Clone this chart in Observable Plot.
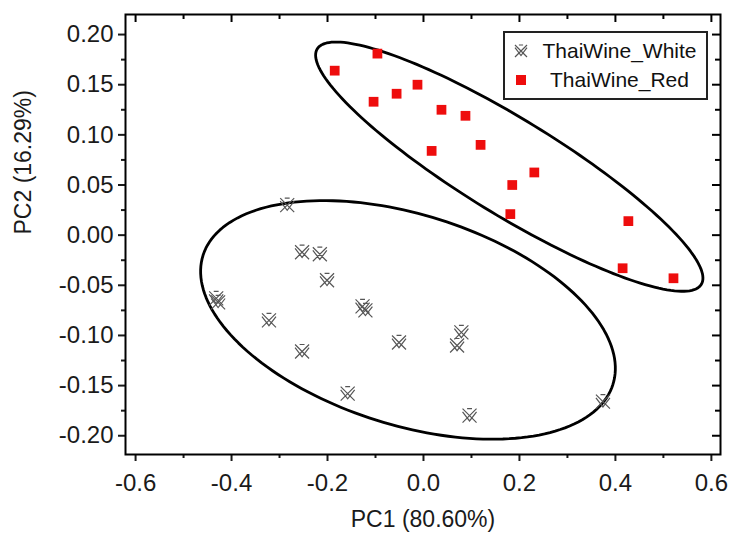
<!DOCTYPE html>
<html>
<head>
<meta charset="utf-8">
<script src="https://cdn.jsdelivr.net/npm/d3@7"></script>
<script src="https://cdn.jsdelivr.net/npm/@observablehq/plot@0.6"></script>
<style>
  html, body { margin: 0; padding: 0; background: #fff; }
  #wrap { position: relative; width: 731px; height: 535px; font-family: "Liberation Sans", Arial, sans-serif; }
  #legend { position: absolute; left: 503px; top: 31px; width: 201px; height: 65px; border: 2px solid #222; background: #fff; }
  .row { position: absolute; left: 0; width: 201px; height: 28px; font-size: 21px; color: #111; }
  .row svg { position: absolute; left: 6px; top: 4px; }
  .row span { position: absolute; left: 30px; right: 2px; text-align: center; top: 2px; }
</style>
</head>
<body>
<div id="wrap"></div>
<script>
// ---- data ----
const whitePC1 = [-0.284, -0.253, -0.216, -0.201, -0.432, -0.428, -0.127, -0.121, -0.322, -0.253, -0.158, -0.051, 0.079, 0.070, 0.096, 0.374];
const whitePC2 = [0.030, -0.017, -0.019, -0.045, -0.063, -0.067, -0.071, -0.075, -0.085, -0.116, -0.158, -0.107, -0.097, -0.110, -0.180, -0.166];
const redPC1 = [-0.185, -0.096, -0.104, -0.056, -0.0125, 0.0375, 0.0875, 0.119, 0.017, 0.185, 0.231, 0.181, 0.427, 0.415, 0.521];
const redPC2 = [0.164, 0.181, 0.133, 0.141, 0.150, 0.125, 0.119, 0.090, 0.084, 0.050, 0.0625, 0.021, 0.014, -0.033, -0.043];
const seriesNames = ["ThaiWine_White", "ThaiWine_Red"];
// confidence ellipses: center, semi-major vector, semi-minor vector (data units)
const ellipseWhite = {cx: -0.0323, cy: -0.0845, ax: 0.4271, ay: -0.0644, bx: -0.0660, by: -0.1000};
const ellipseRed = {cx: 0.1788, cy: 0.0683, ax: 0.4002, ay: -0.1174, bx: -0.0523, by: -0.0407};
const xTicks = [-0.6, -0.4, -0.2, 0.0, 0.2, 0.4, 0.6];
const xMinor = [-0.5, -0.3, -0.1, 0.1, 0.3, 0.5];
const yTicks = [-0.20, -0.15, -0.10, -0.05, 0.00, 0.05, 0.10, 0.15, 0.20];
const yMinor = [-0.175, -0.125, -0.075, -0.025, 0.025, 0.075, 0.125, 0.175];
const xLabel = "PC1 (80.60%)";
const yLabel = "PC2 (16.29%)";

// ---- build ----
const white = whitePC1.map((x, i) => ({x, y: whitePC2[i]}));
const red = redPC1.map((x, i) => ({x, y: redPC2[i]}));
function ellipsePts(e) {
  return d3.range(0, 361, 2).map(a => {
    const t = a * Math.PI / 180;
    return {x: e.cx + e.ax * Math.cos(t) + e.bx * Math.sin(t), y: e.cy + e.ay * Math.cos(t) + e.by * Math.sin(t)};
  });
}
const wineX = {
  draw(ctx, size) {
    const s = Math.sqrt(size / Math.PI);
    ctx.moveTo(-s, -s); ctx.lineTo(s, s);
    ctx.moveTo(s, -s); ctx.lineTo(-s, s);
    ctx.moveTo(-s, -s * 0.55); ctx.lineTo(0, s * 0.75); ctx.lineTo(s, -s * 0.55);
    ctx.moveTo(-s * 0.35, -s); ctx.lineTo(s * 0.35, -s);
  }
};
const fmt1 = d => d.toFixed(1);
const fmt2 = d => d.toFixed(2);
const FH = 440, FW = 595;

const chart = Plot.plot({
  width: 731, height: 535,
  marginLeft: 125, marginRight: 11, marginTop: 14, marginBottom: 81,
  style: {fontFamily: "'Liberation Sans', Arial, sans-serif", background: "transparent", color: "#1a1a1a"},
  x: {domain: [-0.621, 0.619], axis: null},
  y: {domain: [-0.2187, 0.22], axis: null},
  marks: [
    Plot.line(ellipsePts(ellipseWhite), {x: "x", y: "y", curve: "linear-closed", stroke: "#000", strokeWidth: 2.8}),
    Plot.line(ellipsePts(ellipseRed), {x: "x", y: "y", curve: "linear-closed", stroke: "#000", strokeWidth: 2.8}),
    Plot.dot(white, {x: "x", y: "y", symbol: wineX, r: 7, stroke: "#555", strokeWidth: 1.2, fill: "none"}),
    Plot.dot(red, {x: "x", y: "y", symbol: "square", r: 5.5, fill: "#ee0d0d", stroke: "none"}),
    // outward axes
    Plot.axisX(xTicks, {anchor: "bottom", tickSize: 7, tickPadding: 12, tickFormat: fmt1, fontSize: 24, strokeWidth: 2, label: null}),
    Plot.axisX(xMinor, {anchor: "bottom", tickSize: 4, tickFormat: () => "", strokeWidth: 2, label: null}),
    Plot.axisY(yTicks, {anchor: "left", tickSize: 7, tickPadding: 5, tickFormat: fmt2, fontSize: 24, strokeWidth: 2, label: null}),
    Plot.axisY(yMinor, {anchor: "left", tickSize: 4, tickFormat: () => "", strokeWidth: 2, label: null}),
    // inward ticks on top and right
    Plot.tickX(xTicks, {x: d => d, insetBottom: FH - 8, stroke: "#000", strokeWidth: 2}),
    Plot.tickX(xMinor, {x: d => d, insetBottom: FH - 5, stroke: "#000", strokeWidth: 2}),
    Plot.tickY(yTicks, {y: d => d, insetLeft: FW - 8, stroke: "#000", strokeWidth: 2}),
    Plot.tickY(yMinor, {y: d => d, insetLeft: FW - 5, stroke: "#000", strokeWidth: 2}),
    Plot.frame({stroke: "#000", strokeWidth: 2}),
    Plot.text([xLabel], {frameAnchor: "bottom", dy: 72, text: d => d, fontSize: 23, fill: "#1a1a1a"}),
    Plot.text([yLabel], {frameAnchor: "left", dx: -102, rotate: -90, text: d => d, fontSize: 23, fill: "#1a1a1a"})
  ]
});
const wrap = document.getElementById("wrap");
wrap.appendChild(chart);

// legend overlay
const legend = document.createElement("div");
legend.id = "legend";
const sym = s => {
  const p = d3.path(); s.draw(p, 36 * Math.PI); return p.toString();
};
legend.innerHTML =
  `<div class="row" style="top:4px"><svg width="20" height="20"><path transform="translate(10,10)" d="${sym(wineX)}" fill="none" stroke="#555" stroke-width="1.2"/></svg><span>${seriesNames[0]}</span></div>` +
  `<div class="row" style="top:33px"><svg width="20" height="20"><rect x="5" y="5" width="10" height="10" fill="#ee0d0d"/></svg><span>${seriesNames[1]}</span></div>`;
wrap.appendChild(legend);
</script>
</body>
</html>
